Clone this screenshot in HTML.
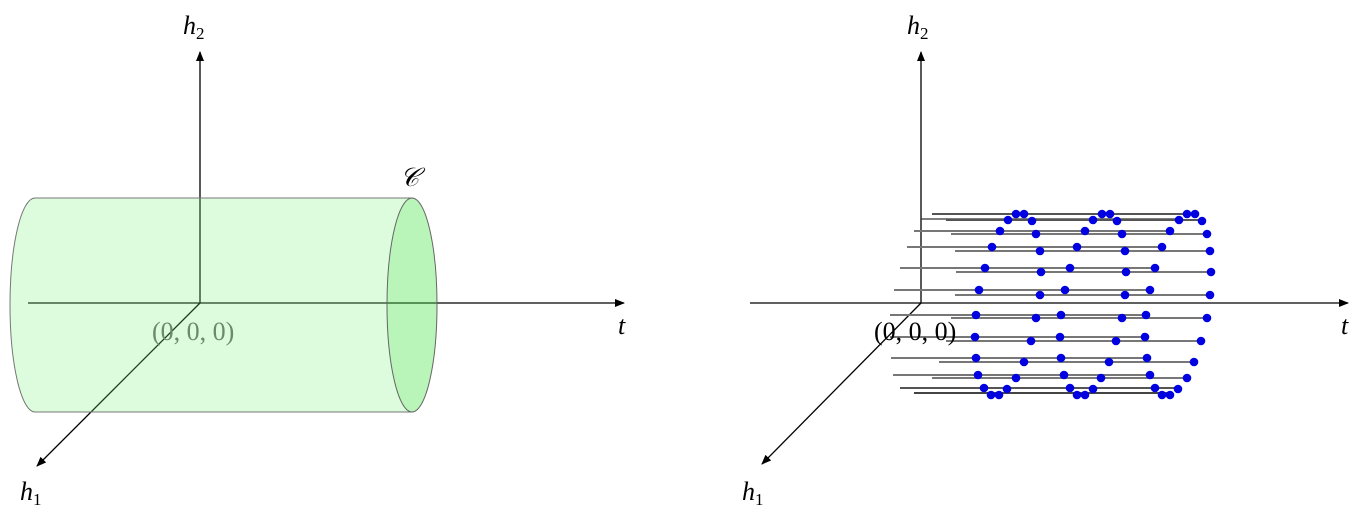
<!DOCTYPE html>
<html><head><meta charset="utf-8"><style>
html,body{margin:0;padding:0;background:#fff;width:1365px;height:507px;overflow:hidden}
text{font-family:"Liberation Serif",serif;font-style:italic;font-size:26px}
</style></head><body>
<svg width="1365" height="507" viewBox="0 0 1365 507" xmlns="http://www.w3.org/2000/svg">
<defs><marker id="a" markerWidth="10" markerHeight="8" refX="9" refY="4" orient="auto" markerUnits="userSpaceOnUse"><path d="M0,0 L10,4 L0,8 z" fill="#000"/></marker></defs>
<!-- LEFT -->
<g stroke="#000" stroke-width="1.3" fill="none">
<line x1="200" y1="303" x2="200" y2="52" marker-end="url(#a)"/>
<line x1="28" y1="303" x2="624" y2="303" marker-end="url(#a)"/>
<line x1="200" y1="303" x2="37" y2="466" marker-end="url(#a)"/>
</g>
<path d="M412,198 L35,198 A25,107 0 0 0 35,412 L412,412 A25,107 0 0 1 412,198 Z" fill="rgba(120,240,120,0.25)" stroke="none"/>
<path d="M412,198 L35,198 A25,107 0 0 0 35,412 L412,412" fill="none" stroke="#777" stroke-width="1"/>
<ellipse cx="412" cy="305" rx="25" ry="107" fill="rgba(70,230,70,0.38)" stroke="#666" stroke-width="1"/>
<text x="400" y="186" font-size="28">𝒞</text>
<text x="152" y="340" fill="#6a8a6a" font-size="29" style="font-style:normal">(0, 0, 0)</text>
<text x="183" y="34">h<tspan font-size="17" dy="5" style="font-style:normal">2</tspan></text>
<text x="20" y="500">h<tspan font-size="17" dy="5" style="font-style:normal">1</tspan></text>
<text x="618" y="334">t</text>
<!-- RIGHT -->
<g stroke="#000" stroke-width="1.3" fill="none">
<line x1="921" y1="303" x2="921" y2="52" marker-end="url(#a)"/>
<line x1="750" y1="303" x2="1348" y2="303" marker-end="url(#a)"/>
<line x1="921" y1="303" x2="762" y2="464" marker-end="url(#a)"/>
<line x1="921" y1="219" x2="1180" y2="219" stroke="#333"/>
</g>
<g stroke="#777" stroke-width="2">
<line x1="932" y1="214" x2="1190" y2="214" stroke="#555"/>
<line x1="946" y1="220" x2="1202" y2="220" stroke="#555"/>
<line x1="914" y1="231" x2="1170" y2="231"/>
<line x1="951" y1="234" x2="1207" y2="234"/>
<line x1="907" y1="247" x2="1162" y2="247"/>
<line x1="955" y1="251" x2="1210" y2="251"/>
<line x1="900" y1="268" x2="1155" y2="268"/>
<line x1="956" y1="272" x2="1211" y2="272"/>
<line x1="894" y1="290" x2="1150" y2="290"/>
<line x1="955" y1="295" x2="1210" y2="295"/>
<line x1="890" y1="315" x2="1146" y2="315"/>
<line x1="951" y1="318" x2="1207" y2="318"/>
<line x1="890" y1="337" x2="1145" y2="337"/>
<line x1="946" y1="341" x2="1201" y2="341"/>
<line x1="891" y1="358" x2="1147" y2="358"/>
<line x1="939" y1="362" x2="1194" y2="362"/>
<line x1="893" y1="375" x2="1150" y2="375"/>
<line x1="932" y1="378" x2="1187" y2="378"/>
<line x1="900" y1="388" x2="1178" y2="388" stroke="#555"/>
<line x1="914" y1="393" x2="1170" y2="393" stroke="#444"/>
</g>
<g fill="#0000e0">
<circle cx="1016" cy="214" r="4.3"/><circle cx="1024" cy="214" r="4.3"/><circle cx="1102" cy="214" r="4.3"/><circle cx="1110" cy="214" r="4.3"/><circle cx="1187" cy="214" r="4.3"/><circle cx="1195" cy="214" r="4.3"/>
<circle cx="1008" cy="220" r="4.3"/><circle cx="1032" cy="221" r="4.3"/><circle cx="1093" cy="220" r="4.3"/><circle cx="1117" cy="221" r="4.3"/><circle cx="1179" cy="220" r="4.3"/><circle cx="1202" cy="221" r="4.3"/>
<circle cx="1000" cy="231" r="4.3"/><circle cx="1085" cy="231" r="4.3"/><circle cx="1170" cy="231" r="4.3"/>
<circle cx="1036" cy="234" r="4.3"/><circle cx="1122" cy="234" r="4.3"/><circle cx="1207" cy="234" r="4.3"/>
<circle cx="992" cy="247" r="4.3"/><circle cx="1077" cy="247" r="4.3"/><circle cx="1162" cy="247" r="4.3"/>
<circle cx="1040" cy="251" r="4.3"/><circle cx="1125" cy="251" r="4.3"/><circle cx="1210" cy="251" r="4.3"/>
<circle cx="985" cy="268" r="4.3"/><circle cx="1070" cy="268" r="4.3"/><circle cx="1155" cy="268" r="4.3"/>
<circle cx="1041" cy="272" r="4.3"/><circle cx="1126" cy="272" r="4.3"/><circle cx="1211" cy="272" r="4.3"/>
<circle cx="979" cy="290" r="4.3"/><circle cx="1065" cy="290" r="4.3"/><circle cx="1150" cy="290" r="4.3"/>
<circle cx="1040" cy="295" r="4.3"/><circle cx="1125" cy="295" r="4.3"/><circle cx="1210" cy="295" r="4.3"/>
<circle cx="976" cy="315" r="4.3"/><circle cx="1061" cy="315" r="4.3"/><circle cx="1146" cy="315" r="4.3"/>
<circle cx="1036" cy="318" r="4.3"/><circle cx="1122" cy="318" r="4.3"/><circle cx="1207" cy="318" r="4.3"/>
<circle cx="975" cy="337" r="4.3"/><circle cx="1060" cy="337" r="4.3"/><circle cx="1145" cy="337" r="4.3"/>
<circle cx="1031" cy="341" r="4.3"/><circle cx="1116" cy="341" r="4.3"/><circle cx="1201" cy="341" r="4.3"/>
<circle cx="976" cy="358" r="4.3"/><circle cx="1061" cy="358" r="4.3"/><circle cx="1147" cy="358" r="4.3"/>
<circle cx="1024" cy="362" r="4.3"/><circle cx="1109" cy="362" r="4.3"/><circle cx="1194" cy="362" r="4.3"/>
<circle cx="978" cy="375" r="4.3"/><circle cx="1064" cy="375" r="4.3"/><circle cx="1150" cy="375" r="4.3"/>
<circle cx="1016" cy="378" r="4.3"/><circle cx="1101" cy="378" r="4.3"/><circle cx="1187" cy="378" r="4.3"/>
<circle cx="984" cy="388" r="4.3"/><circle cx="1007" cy="389" r="4.3"/><circle cx="1070" cy="388" r="4.3"/><circle cx="1093" cy="389" r="4.3"/><circle cx="1155" cy="388" r="4.3"/><circle cx="1178" cy="389" r="4.3"/>
<circle cx="991" cy="395" r="4.3"/><circle cx="999" cy="395" r="4.3"/><circle cx="1077" cy="395" r="4.3"/><circle cx="1085" cy="395" r="4.3"/><circle cx="1162" cy="395" r="4.3"/><circle cx="1170" cy="395" r="4.3"/>
</g>
<text x="874" y="340" fill="#000" font-size="29" style="font-style:normal">(0, 0, 0)</text>
<text x="907" y="34">h<tspan font-size="17" dy="5" style="font-style:normal">2</tspan></text>
<text x="742" y="500">h<tspan font-size="17" dy="5" style="font-style:normal">1</tspan></text>
<text x="1341" y="334">t</text>
</svg>
</body></html>
